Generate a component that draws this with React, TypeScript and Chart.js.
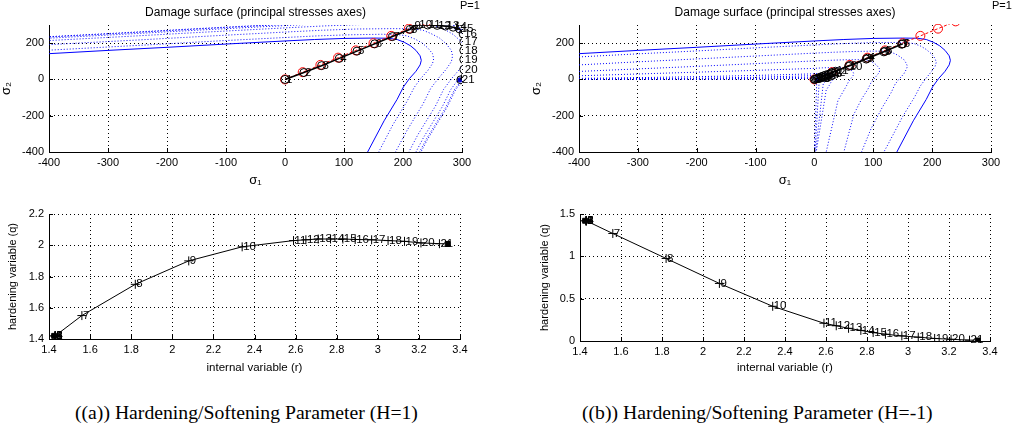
import React, { useEffect, useRef } from "react";
import { Chart, registerables } from "chart.js";

Chart.register(...registerables);

type Pt = [number, number];

// ---------------- tick labels ----------------
const sigma1Ticks = [-400, -300, -200, -100, 0, 100, 200, 300];
const sigma2Ticks = [-400, -200, 0, 200];
const rTicks = [1.4, 1.6, 1.8, 2, 2.2, 2.4, 2.6, 2.8, 3, 3.2, 3.4];
const qTicksHard = [1.4, 1.6, 1.8, 2, 2.2];
const qTicksSoft = [0, 0.5, 1, 1.5];

// ---------------- damage surfaces (sigma1, sigma2) ----------------
const initialSurface: Pt[] = [
  [-400, 142], [-300, 160], [-200, 177], [-100, 195], [0, 212], [50, 220], [100, 226], [150, 228],
  [175, 227], [190, 220], [202, 205], [213, 185], [222, 160], [229, 130], [231, 105], [229, 80],
  [222, 45], [211, 5], [201, -40], [190, -110], [168, -228], [140, -400],
];

// hardening case (H=1): surfaces grow
const hardSurface1: Pt[] = [
  [-436, 155], [-327, 174], [-218, 193], [-109, 213], [0, 231], [55, 240], [109, 246], [164, 249],
  [191, 247], [207, 240], [220, 223], [232, 202], [242, 174], [250, 142], [252, 114], [250, 87],
  [242, 49], [230, 5], [219, -44], [207, -120], [183, -249], [153, -436],
];
const hardSurface2: Pt[] = [
  [-492, 175], [-369, 197], [-246, 218], [-123, 240], [0, 261], [62, 271], [123, 278], [185, 280],
  [215, 279], [234, 271], [248, 252], [262, 228], [273, 197], [282, 160], [284, 129], [282, 98],
  [273, 55], [260, 6], [247, -49], [234, -135], [207, -280], [172, -492],
];
const hardSurface3: Pt[] = [
  [-536, 190], [-402, 214], [-268, 237], [-134, 261], [0, 284], [67, 295], [134, 303], [201, 306],
  [235, 304], [255, 295], [271, 275], [285, 248], [297, 214], [307, 174], [310, 141], [307, 107],
  [297, 60], [283, 7], [269, -54], [255, -147], [225, -306], [188, -536],
];
const hardSurface4: Pt[] = [
  [-560, 199], [-420, 224], [-280, 248], [-140, 273], [0, 297], [70, 308], [140, 316], [210, 319],
  [245, 318], [266, 308], [283, 287], [298, 259], [311, 224], [321, 182], [323, 147], [321, 112],
  [311, 63], [295, 7], [281, -56], [266, -154], [235, -319], [196, -560],
];
const hardSurface5: Pt[] = [
  [-572, 203], [-429, 229], [-286, 253], [-143, 279], [0, 303], [72, 315], [143, 323], [215, 326],
  [250, 325], [272, 315], [289, 293], [305, 265], [317, 229], [327, 186], [330, 150], [327, 114],
  [317, 64], [302, 7], [287, -57], [272, -157], [240, -326], [200, -572],
];
const hardSurface6: Pt[] = [
  [-576, 204], [-432, 230], [-288, 255], [-144, 281], [0, 305], [72, 317], [144, 325], [216, 328],
  [252, 327], [274, 317], [291, 295], [307, 266], [320, 230], [330, 187], [333, 151], [330, 115],
  [320, 65], [304, 7], [289, -58], [274, -158], [242, -328], [202, -576],
];
const hardSurfaces = [hardSurface1, hardSurface2, hardSurface3, hardSurface4, hardSurface5, hardSurface6];

// softening case (H=-1): surfaces shrink
const softSurface1: Pt[] = [
  [-400, 124], [-300, 141], [-200, 157], [-100, 174], [0, 190], [45, 197], [89, 202], [134, 204],
  [156, 203], [170, 197], [181, 183], [190, 165], [198, 143], [205, 116], [207, 94], [205, 72],
  [198, 40], [189, 4], [180, -36], [170, -98], [150, -204], [125, -358], [118, -400],
];
const softSurface2: Pt[] = [
  [-400, 80], [-300, 97], [-200, 113], [-100, 129], [0, 145], [34, 150], [68, 154], [102, 156],
  [120, 155], [130, 150], [138, 140], [145, 126], [152, 109], [156, 89], [158, 72], [156, 55],
  [152, 31], [144, 3], [137, -27], [130, -75], [115, -156], [96, -273], [80, -400],
];
const softSurface3: Pt[] = [
  [-400, 44], [-300, 58], [-200, 72], [-100, 87], [0, 102], [24, 105], [48, 108], [72, 109],
  [84, 109], [91, 105], [97, 98], [102, 89], [106, 77], [110, 62], [111, 50], [110, 38],
  [106, 22], [101, 2], [96, -19], [91, -53], [80, -109], [67, -192], [50, -400],
];
const softSurface4: Pt[] = [
  [-400, 20], [-300, 30], [-200, 40], [-100, 50], [0, 61], [14, 64], [29, 65], [43, 66],
  [51, 66], [55, 64], [58, 59], [62, 53], [64, 46], [66, 38], [67, 30], [66, 23],
  [64, 13], [61, 1], [58, -12], [55, -32], [49, -66], [40, -116], [20, -400],
];
const softSurface5: Pt[] = [
  [-400, 6], [-300, 10], [-200, 15], [-100, 22], [0, 31], [7, 33], [15, 33], [22, 34], [26, 34],
  [28, 33], [30, 30], [32, 27], [33, 24], [34, 19], [34, 16], [34, 12], [33, 7], [31, 1],
  [30, -6], [28, -16], [25, -34], [20, -59], [3, -400],
];
const softSurface6: Pt[] = [
  [-400, 3], [-200, 7], [-100, 12], [0, 21], [10, 22], [15, 23], [19, 22], [21, 19], [22, 15],
  [23, 11], [22, 5], [21, 1], [19, -11], [15, -23], [2, -400],
];
const softSurface7: Pt[] = [
  [-400, 1], [-200, 3], [-100, 6], [0, 13], [6, 14], [11, 13], [13, 10], [14, 7], [13, 3],
  [12, 0], [10, -7], [8, -14], [1, -400],
];
const softSurface8: Pt[] = [
  [-400, 0], [-100, 2], [0, 6], [3, 7], [6, 6], [7, 3], [6, 0], [4, -5], [0, -400],
];
const softSurfaces = [softSurface1, softSurface2, softSurface3, softSurface4, softSurface5, softSurface6, softSurface7, softSurface8];

// ---------------- stress paths ----------------
const imposedStress: Pt[] = [
  [0, 0], [30, 40], [60, 80], [90, 120], [120, 160], [150, 200], [180, 240], [210, 280], [240, 320],
];
const stressPathHard: Pt[] = [
  [0, 0], [32, 38], [62, 76], [92, 116], [122, 156], [152, 196], [182, 236], [212, 276], [218, 296],
  [226, 300], [242, 300], [258, 298], [272, 294], [285, 288], [296, 278], [302, 250], [303, 205],
  [303, 160], [303, 110], [303, 55], [298, -2],
];
const stressPathSoft: Pt[] = [
  [0, 0], [30, 38], [60, 77], [90, 117], [120, 156], [150, 196], [148, 194], [118, 152], [88, 112],
  [58, 72], [36, 45], [29, 36], [24, 29], [19, 24], [15, 19], [12, 15], [9, 11], [7, 8], [5, 6],
  [3, 3], [1, 1],
];
const stepLabels = [
  "1", "2", "3", "4", "5", "6", "7", "8", "9", "10", "11", "12", "13", "14", "15", "16", "17", "18", "19", "20", "21",
];
const finalPointHard: Pt[] = [[296, -3]];
const finalPointSoft: Pt[] = [[5, -2]];

// ---------------- hardening variable vs internal variable ----------------
const internalR = [1.43, 1.43, 1.43, 1.43, 1.43, 1.43, 1.56, 1.82, 2.08, 2.34, 2.59, 2.65, 2.71, 2.77, 2.83, 2.89, 2.97, 3.05, 3.13, 3.21, 3.3];
const hardeningQHard = [1.42, 1.42, 1.42, 1.42, 1.42, 1.42, 1.55, 1.75, 1.9, 1.99, 2.03, 2.035, 2.04, 2.04, 2.04, 2.037, 2.035, 2.03, 2.025, 2.015, 2.01];
const hardeningQSoft = [1.42, 1.42, 1.42, 1.42, 1.42, 1.42, 1.27, 0.975, 0.68, 0.41, 0.21, 0.18, 0.15, 0.125, 0.1, 0.08, 0.06, 0.045, 0.03, 0.02, 0.01];
const endPointHard: Pt[] = [[1.425, 1.42], [3.34, 2.008]];
const endPointSoft: Pt[] = [[1.425, 1.42], [3.34, 0.006]];

// ---------------- helpers ----------------
const FONT = '"Liberation Sans", Arial, Helvetica, sans-serif';
const fmt = (v: number) => String(Math.round(v * 100) / 100);
const toXY = (pts: Pt[]) => pts.map(([x, y]) => ({ x, y }));

const pointLabelPlugin = {
  id: "pointLabels",
  afterDatasetsDraw(chart: any) {
    const { ctx, scales } = chart;
    chart.data.datasets.forEach((ds: any) => {
      if (!ds.pointLabels) return;
      ctx.save();
      ctx.fillStyle = "#000";
      ctx.font = `11.5px ${FONT}`;
      ctx.textAlign = "left";
      ctx.textBaseline = "middle";
      ds.data.forEach((p: any, j: number) => {
        const t = ds.pointLabels[j];
        if (!t) return;
        ctx.fillText(t, scales.x.getPixelForValue(p.x) + (ds.labelDx ?? 1), scales.y.getPixelForValue(p.y) + (ds.labelDy ?? 0));
      });
      ctx.restore();
    });
  },
};

const cornerTextPlugin = {
  id: "cornerText",
  afterDraw(chart: any, _a: any, opts: any) {
    if (!opts || !opts.text) return;
    const ctx = chart.ctx;
    ctx.save();
    ctx.fillStyle = "#000";
    ctx.font = `11px ${FONT}`;
    ctx.textAlign = "left";
    ctx.textBaseline = "middle";
    ctx.fillText(opts.text, opts.x, opts.y);
    ctx.restore();
  },
};

const inwardTicksPlugin = {
  id: "inwardTicks",
  afterDraw(chart: any) {
    const { ctx, chartArea, scales } = chart;
    ctx.save();
    ctx.strokeStyle = "#000";
    ctx.lineWidth = 1;
    ctx.beginPath();
    scales.x.ticks.forEach((t: any) => {
      const px = Math.round(scales.x.getPixelForValue(t.value)) + 0.5;
      ctx.moveTo(px, chartArea.bottom);
      ctx.lineTo(px, chartArea.bottom - 4);
    });
    scales.y.ticks.forEach((t: any) => {
      const py = Math.round(scales.y.getPixelForValue(t.value)) + 0.5;
      ctx.moveTo(chartArea.left, py);
      ctx.lineTo(chartArea.left + 4, py);
    });
    ctx.stroke();
    ctx.restore();
  },
};

function makeScale(
  kind: "x" | "y",
  min: number,
  max: number,
  ticks: number[],
  size: number,
  title: string,
  titleSize: number,
  titlePadding: any,
  tickPadding: number
) {
  return {
    type: "linear",
    position: kind === "x" ? "bottom" : "left",
    min,
    max,
    afterBuildTicks: (s: any) => {
      s.ticks = ticks.map((v) => ({ value: v }));
    },
    afterFit: (s: any) => {
      if (kind === "x") s.height = size;
      else s.width = size;
    },
    grid: { color: "#000", lineWidth: 1, drawTicks: false },
    border: { display: true, color: "#000", width: 1, dash: [1, 3] },
    ticks: {
      color: "#000",
      font: { family: FONT, size: 11 },
      padding: tickPadding,
      autoSkip: false,
      maxRotation: 0,
      callback: (v: any) => fmt(Number(v)),
    },
    title: {
      display: true,
      text: title,
      color: "#000",
      font: { family: FONT, size: titleSize, lineHeight: 1 },
      padding: titlePadding,
    },
  };
}

function surfaceChart(
  canvas: HTMLCanvasElement,
  surfaces: Pt[][],
  path: Pt[],
  finalPt: Pt[],
  padRight: number,
  cornerX: number
) {
  const datasets: any[] = [
    {
      data: toXY(path),
      showLine: true,
      borderColor: "#000",
      borderWidth: 1.6,
      pointStyle: "circle",
      pointRadius: 4,
      pointBorderColor: "#000",
      pointBackgroundColor: "rgba(0,0,0,0)",
      pointBorderWidth: 1,
      pointLabels: stepLabels,
      labelDx: 1,
    },
    {
      data: toXY(finalPt),
      showLine: false,
      pointStyle: "rect",
      pointRadius: 2.5,
      pointBorderColor: "#0000cc",
      pointBackgroundColor: "#0000cc",
    },
    {
      data: toXY(imposedStress),
      showLine: true,
      clip: { left: 0, right: 0, bottom: 0, top: 1 },
      borderColor: "#ff0000",
      borderWidth: 1,
      borderDash: [3, 2],
      pointStyle: "circle",
      pointRadius: 4.5,
      pointBorderColor: "#ff0000",
      pointBackgroundColor: "rgba(0,0,0,0)",
      pointBorderWidth: 1,
    },
    {
      data: toXY(initialSurface),
      showLine: true,
      borderColor: "#0000ff",
      borderWidth: 1,
      pointRadius: 0,
    },
    ...surfaces.map((s) => ({
      data: toXY(s),
      showLine: true,
      borderColor: "#0000ff",
      borderWidth: 1,
      borderDash: [1, 2],
      pointRadius: 0,
    })),
  ];
  return new Chart(canvas, {
    type: "scatter",
    data: { datasets },
    plugins: [pointLabelPlugin, cornerTextPlugin, inwardTicksPlugin],
    options: {
      animation: false,
      responsive: false,
      devicePixelRatio: 1,
      layout: { padding: { left: 0, right: padRight, top: 0, bottom: 0 } },
      plugins: {
        legend: { display: false },
        tooltip: { enabled: false },
        title: {
          display: true,
          text: "Damage surface (principal stresses axes)",
          color: "#000",
          fullSize: false,
          font: { family: FONT, size: 12, weight: "normal", lineHeight: 1.2 },
          padding: { top: 5, bottom: 5.6 },
        },
        cornerText: { text: "P=1", x: cornerX, y: 6 },
      } as any,
      scales: {
        x: makeScale("x", -400, 300, sigma1Ticks, 43, "σ₁", 13, { top: 0, bottom: 8.5 }, 4),
        y: makeScale("y", -400, 300, sigma2Ticks, 49, "σ₂", 13, { top: 0, bottom: 0 }, 5),
      } as any,
    },
  } as any);
}

function hardeningChart(
  canvas: HTMLCanvasElement,
  q: number[],
  ends: Pt[],
  qMin: number,
  qMax: number,
  qTicks: number[],
  xHeight: number,
  yWidth: number,
  yTitlePad: number,
  padRight: number
) {
  const pts = internalR.map((r, i) => ({ x: r, y: q[i] }));
  return new Chart(canvas, {
    type: "scatter",
    data: {
      datasets: [
        {
          data: pts,
          showLine: true,
          borderColor: "#000",
          borderWidth: 1,
          pointStyle: "cross",
          pointRadius: 4.5,
          pointBorderColor: "#000",
          pointBorderWidth: 1,
          pointLabels: stepLabels,
          labelDx: 1,
        },
        {
          data: toXY(ends),
          showLine: false,
          pointStyle: "rect",
          pointRadius: 3.5,
          pointBorderColor: "#000",
          pointBackgroundColor: "#000",
        },
      ],
    },
    plugins: [pointLabelPlugin, inwardTicksPlugin],
    options: {
      animation: false,
      responsive: false,
      devicePixelRatio: 1,
      layout: { padding: { left: 0, right: padRight, top: 19, bottom: 0 } },
      plugins: { legend: { display: false }, tooltip: { enabled: false } },
      scales: {
        x: makeScale("x", 1.4, 3.4, rTicks, xHeight, "internal variable (r)", 11.5, { top: 0, bottom: 6.5 }, 4),
        y: makeScale("y", qMin, qMax, qTicks, yWidth, "hardening variable (q)", 11, { top: yTitlePad, bottom: 0 }, 5),
      } as any,
    },
  } as any);
}

const captionStyle: React.CSSProperties = {
  position: "absolute",
  top: 402,
  fontFamily: '"Liberation Serif", "DejaVu Serif", serif',
  fontSize: 19.7,
  lineHeight: "20px",
  whiteSpace: "nowrap",
  color: "#000",
};

export default function App() {
  const topA = useRef<HTMLCanvasElement>(null);
  const topB = useRef<HTMLCanvasElement>(null);
  const botA = useRef<HTMLCanvasElement>(null);
  const botB = useRef<HTMLCanvasElement>(null);

  useEffect(() => {
    const charts = [
      surfaceChart(topA.current!, hardSurfaces, stressPathHard, finalPointHard, 38, 460),
      surfaceChart(topB.current!, softSurfaces, stressPathSoft, finalPointSoft, 22, 462),
      hardeningChart(botA.current!, hardeningQHard, endPointHard, 1.4, 2.2, qTicksHard, 41, 49, 7.5, 40),
      hardeningChart(botB.current!, hardeningQSoft, endPointSoft, 0, 1.5, qTicksSoft, 39, 50, 9.5, 23),
    ];
    return () => charts.forEach((c) => c.destroy());
  }, []);

  const cv = (left: number, top: number, w: number, h: number): React.CSSProperties => ({
    position: "absolute",
    left,
    top,
    width: w,
    height: h,
  });

  return (
    <div style={{ position: "absolute", left: 0, top: 0, width: 1013, height: 425, background: "#fff", overflow: "hidden" }}>
      <canvas ref={topA} width={500} height={195} style={cv(0, 0, 500, 195)} />
      <canvas ref={topB} width={483} height={195} style={cv(530, 0, 483, 195)} />
      <canvas ref={botA} width={500} height={185} style={cv(0, 195, 500, 185)} />
      <canvas ref={botB} width={483} height={185} style={cv(530, 195, 483, 185)} />
      <div style={{ ...captionStyle, left: 75 }}>((a)) Hardening/Softening Parameter (H=1)</div>
      <div style={{ ...captionStyle, left: 582 }}>((b)) Hardening/Softening Parameter (H=-1)</div>
    </div>
  );
}
